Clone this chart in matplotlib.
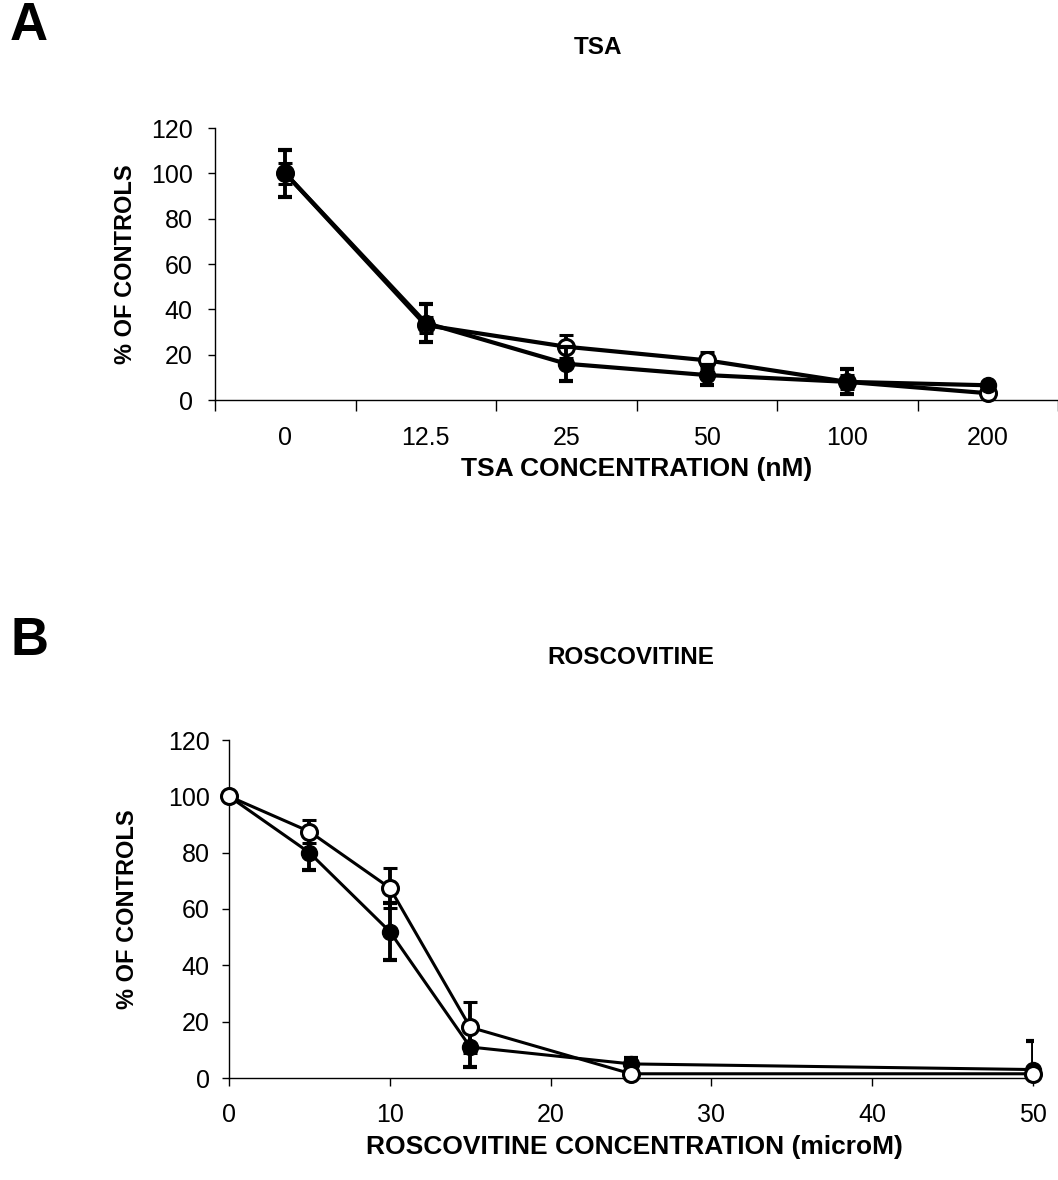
import matplotlib
matplotlib.use("Agg")
import matplotlib.pyplot as plt
import numpy as np

plt.rcParams['font.family'] = ['Liberation Sans', 'DejaVu Sans']

# Panel A data (TSA)
tsa_labels = ["0", "12.5", "25", "50", "100", "200"]
tsa_filled = [100, 34, 16, 11, 8, 6.5]
tsa_filled_err = [10.5, 8.5, 7.5, 4.5, 5.5, 0]
tsa_open = [100, 33, 23.5, 17.5, 8, 3]
tsa_open_err = [4.5, 3.5, 5, 3.5, 3, 0]

# Panel B data (Roscovitine)
rosc_conc = [0, 5, 10, 15, 25, 50]
rosc_filled = [100, 80, 52, 11, 5, 3]
rosc_filled_err = [0, 6, 10, 7, 2, 10]
rosc_open = [100, 87.5, 67.5, 18, 1.5, 1.5]
rosc_open_err = [0, 4, 7, 9, 0, 0]

yticks = [0, 20, 40, 60, 80, 100, 120]

W, H = 1058, 1180
fig = plt.figure(figsize=(W / 100, H / 100), dpi=100)

ms = 11.5
cap = 5
tick_fs = 18
ylab_fs = 17
xlab_fs = 19
title_fs = 17.5

def style_axes(ax, ypad):
    ax.spines['top'].set_visible(False)
    ax.spines['right'].set_visible(False)
    ax.spines['left'].set_linewidth(1.0)
    ax.spines['bottom'].set_linewidth(1.0)
    ax.set_ylim(0, 120)
    ax.set_yticks(yticks)
    ax.tick_params(axis='y', direction='out', length=5, width=1, labelsize=tick_fs, pad=ypad)

# Panel A
axA = fig.add_axes([215 / W, 1 - 400 / H, 843 / W, 272 / H])
style_axes(axA, 11)
xa = np.arange(len(tsa_labels))
ebA1 = axA.errorbar(xa, tsa_filled, yerr=tsa_filled_err, color='black', lw=3.0, marker='o',
                    ms=ms, mfc='black', mec='black', capsize=cap, capthick=3, elinewidth=2.8, zorder=3)
ebA2 = axA.errorbar(xa, tsa_open, yerr=tsa_open_err, color='black', lw=3.0, marker='o',
                    ms=ms, mfc='white', mec='black', mew=2.2, capsize=cap, capthick=3, elinewidth=2.8, zorder=2)
axA.plot(xa[0], tsa_filled[0], 'o', ms=ms, color='black', zorder=5)
for eb in (ebA1, ebA2):
    eb[0].set_clip_on(False)
axA.set_xlim(-0.5, len(tsa_labels) - 0.5)
axA.set_xticks(np.arange(-0.5, len(tsa_labels), 1.0))
axA.set_xticklabels([])
axA.tick_params(axis='x', which='major', direction='out', length=8, width=1)
axA.set_xticks(xa, minor=True)
axA.set_xticklabels(tsa_labels, minor=True)
axA.tick_params(axis='x', which='minor', length=0, labelsize=tick_fs, pad=19)
axA.set_xlabel("TSA CONCENTRATION (nM)", fontsize=xlab_fs, fontweight='bold')
axA.set_ylabel("% OF CONTROLS", fontsize=ylab_fs, fontweight='bold')
axA.xaxis.set_label_coords((637 - 215) / 843, (400 - 469) / 272)
axA.yaxis.set_label_coords((125 - 215) / 843, 0.5)
axA.xaxis.label.set_va('center')
axA.yaxis.label.set_va('center')

# Panel B
axB = fig.add_axes([229 / W, 1 - 1078 / H, 804 / W, 338 / H])
style_axes(axB, 9)
ebB1 = axB.errorbar(rosc_conc, rosc_filled, yerr=rosc_filled_err, color='black', lw=2.2, marker='o',
                    ms=ms, mfc='black', mec='black', capsize=cap, capthick=3, elinewidth=2.8, zorder=2)
ebB2 = axB.errorbar(rosc_conc, rosc_open, yerr=rosc_open_err, color='black', lw=2.2, marker='o',
                    ms=ms, mfc='white', mec='black', mew=2.2, capsize=cap, capthick=3, elinewidth=2.8, zorder=3)
for eb in (ebB1, ebB2):
    eb[0].set_clip_on(False)
axB.set_xlim(0, 50)
axB.set_xticks([0, 10, 20, 30, 40, 50])
axB.tick_params(axis='x', direction='out', length=6, width=1, labelsize=tick_fs, pad=12)
axB.set_xlabel("ROSCOVITINE CONCENTRATION (microM)", fontsize=xlab_fs, fontweight='bold')
axB.set_ylabel("% OF CONTROLS", fontsize=ylab_fs, fontweight='bold')
axB.xaxis.set_label_coords((634 - 229) / 804, (1078 - 1147) / 338)
axB.yaxis.set_label_coords((127 - 229) / 804, 0.5)
axB.xaxis.label.set_va('center')
axB.yaxis.label.set_va('center')

# Titles
fig.text(598 / W, 1 - 48 / H, "TSA", fontsize=title_fs, fontweight='bold', ha='center', va='center')
fig.text(631 / W, 1 - 657 / H, "ROSCOVITINE", fontsize=title_fs, fontweight='bold', ha='center', va='center')

# Panel letters
fig.text(10 / W, 1 - 40 / H, "A", fontsize=38, fontweight='bold', ha='left', va='baseline')
fig.text(10 / W, 1 - 655 / H, "B", fontsize=38, fontweight='bold', ha='left', va='baseline')

fig.savefig("out.png", dpi=100)
